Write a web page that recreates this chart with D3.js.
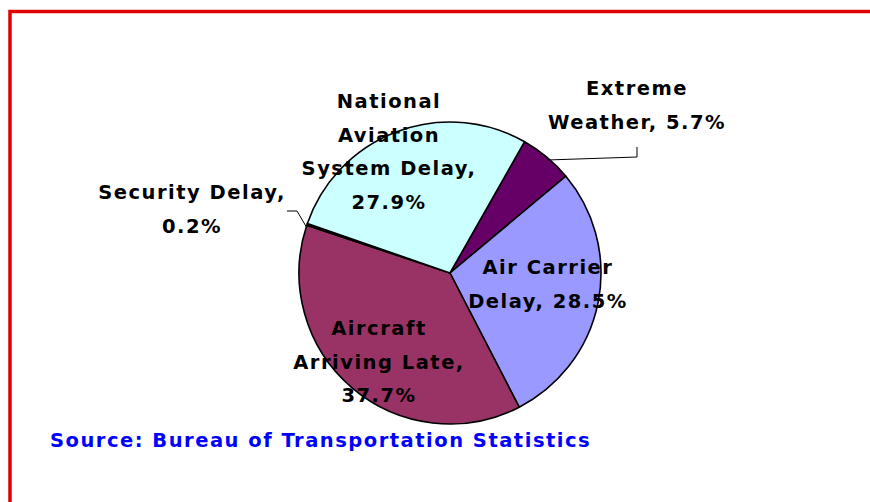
<!DOCTYPE html>
<meta charset="utf-8">
<style>
  body { margin: 0; background: #fff; }
  text { font-family: "DejaVu Sans", Verdana, sans-serif; font-weight: bold; letter-spacing: 1.5px; }
</style>
<body>
  <div id="box1"></div>
</body>
<script src="https://d3js.org/d3.v7.min.js"></script>
<script>

width = 870;
height = 502;

// slices, clockwise from the National/Extreme boundary
categories = ["Extreme Weather", "Air Carrier Delay", "Aircraft Arriving Late", "Security Delay", "National Aviation System Delay"]
values = [5.7, 28.5, 37.7, 0.2, 27.9]
colors = ["#660066", "#9999ff", "#993366", "#202020", "#ccffff"]

// label lines as drawn in the chart
labelLines = [
  ["Extreme", "Weather, 5.7%"],
  ["Air Carrier", "Delay, 28.5%"],
  ["Aircraft", "Arriving Late,", "37.7%"],
  ["Security Delay,", "0.2%"],
  ["National", "Aviation", "System Delay,", "27.9%"]
]
labelPos = [[637, 95], [548, 274], [379, 335], [192, 199], [389, 108]]

cx = 450; cy = 273; r = 151;

var svg = d3.select('#box1').append("svg")
    .attr("width", width)
    .attr("height", height)

// red frame (top and left edges)
svg.append("path")
    .attr("d", "M10,502 L10,11.5 L870,11.5")
    .attr("fill", "none")
    .attr("stroke", "#e00000")
    .attr("stroke-width", 3.5)

var start = 29.6 * Math.PI / 180

var pie = d3.pie().sort(null).value(d => d)
    .startAngle(start)
    .endAngle(start + 2 * Math.PI)

var arc = d3.arc().innerRadius(0).outerRadius(r)

var g = svg.append("g").attr("transform", `translate(${cx},${cy})`)

g.selectAll("path")
  .data(pie(values))
  .join("path")
    .attr("d", arc)
    .attr("fill", (d, i) => colors[i])
    .attr("stroke", "#000")
    .attr("stroke-width", 1.6)
    .attr("stroke-linejoin", "round")

// leader lines
svg.append("polyline")
    .attr("points", "637,147 637,157 547,160")
    .attr("fill", "none").attr("stroke", "#000").attr("stroke-width", 1)
svg.append("polyline")
    .attr("points", "287,211 297,211 307,228")
    .attr("fill", "none").attr("stroke", "#000").attr("stroke-width", 1)

labelLines.forEach(function(lines, i) {
  var t = svg.append("text")
      .attr("x", labelPos[i][0])
      .attr("y", labelPos[i][1])
      .attr("text-anchor", "middle")
      .style("font-size", "19.5px")
      .attr("fill", "#000")
  lines.forEach(function(l, j) {
    t.append("tspan")
      .attr("x", labelPos[i][0])
      .attr("y", labelPos[i][1] + j * 33.5)
      .text(l)
  })
})

svg.append("text")
    .attr("x", 50)
    .attr("y", 447)
    .style("font-size", "19.5px")
    .attr("fill", "#0000ff")
    .text("Source: Bureau of Transportation Statistics")

</script>
